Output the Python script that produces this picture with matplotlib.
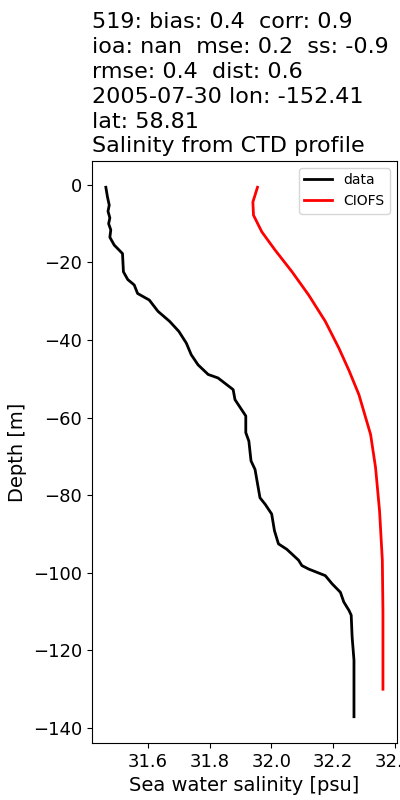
"""Salinity profile: CTD data vs CIOFS model."""

import numpy as np
import matplotlib
matplotlib.use("Agg")
import matplotlib.pyplot as plt

# observed CTD profile
data_sal = [31.463, 31.468, 31.474, 31.470, 31.476, 31.472, 31.479, 31.476, 31.49,
            31.517, 31.52, 31.534, 31.555, 31.566, 31.604, 31.632, 31.67, 31.70,
            31.724, 31.74, 31.762, 31.795, 31.827, 31.876, 31.882, 31.917, 31.917,
            31.927, 31.934, 31.947, 31.963, 31.98, 32.001, 32.01, 32.023, 32.05,
            32.088, 32.099, 32.121, 32.175, 32.197, 32.224, 32.235, 32.252, 32.259,
            32.262, 32.268, 32.268]
data_depth = [-0.6, -3.0, -5.2, -6.8, -8.5, -10.0, -11.6, -13.5, -15.5,
              -17.7, -22.4, -24.4, -25.8, -28.0, -29.7, -32.6, -35.2, -37.8,
              -40.8, -43.8, -46.4, -48.9, -49.8, -52.8, -55.4, -59.6, -63.9,
              -66.1, -71.2, -73.4, -80.7, -82.4, -84.9, -89.2, -92.6, -94.0,
              -96.8, -98.2, -99.1, -100.8, -102.9, -105.1, -107.6, -109.8, -111.0,
              -116.6, -122.6, -137.2]

# CIOFS model profile
model_sal = [31.955, 31.94, 31.942, 31.969, 32.012, 32.067, 32.121, 32.175, 32.219,
             32.252, 32.284, 32.322, 32.338, 32.351, 32.36, 32.362, 32.362]
model_depth = [-0.6, -4.4, -7.8, -12.1, -16.8, -22.4, -28.4, -35.2, -42.1,
               -47.9, -54.1, -64.4, -72.9, -84.1, -96.8, -110.0, -130.1]

title_lines = [
    "519: bias: 0.4  corr: 0.9",
    "ioa: nan  mse: 0.2  ss: -0.9",
    "rmse: 0.4  dist: 0.6",
    "2005-07-30 lon: -152.41",
    "lat: 58.81",
    "Salinity from CTD profile",
]


def main() -> None:
    fig = plt.figure(figsize=(4, 8), dpi=100)
    ax = fig.add_axes([0.23, 0.071, 0.762, 0.728])

    ax.plot(np.array(data_sal), np.array(data_depth), "k-", lw=2, label="data")
    ax.plot(np.array(model_sal), np.array(model_depth), "r-", lw=2, label="CIOFS")

    ax.set_xticks([31.6, 31.8, 32.0, 32.2, 32.4])
    ax.tick_params(labelsize=13)
    ax.set_xlabel("Sea water salinity [psu]", fontsize=14)
    ax.set_ylabel("Depth [m]", fontsize=14)
    ax.set_title("\n".join(title_lines), loc="left", fontsize=16, linespacing=1.3)
    ax.legend(loc="upper right", fontsize=10)

    fig.savefig("out.png", dpi=100)


if __name__ == "__main__":
    main()
